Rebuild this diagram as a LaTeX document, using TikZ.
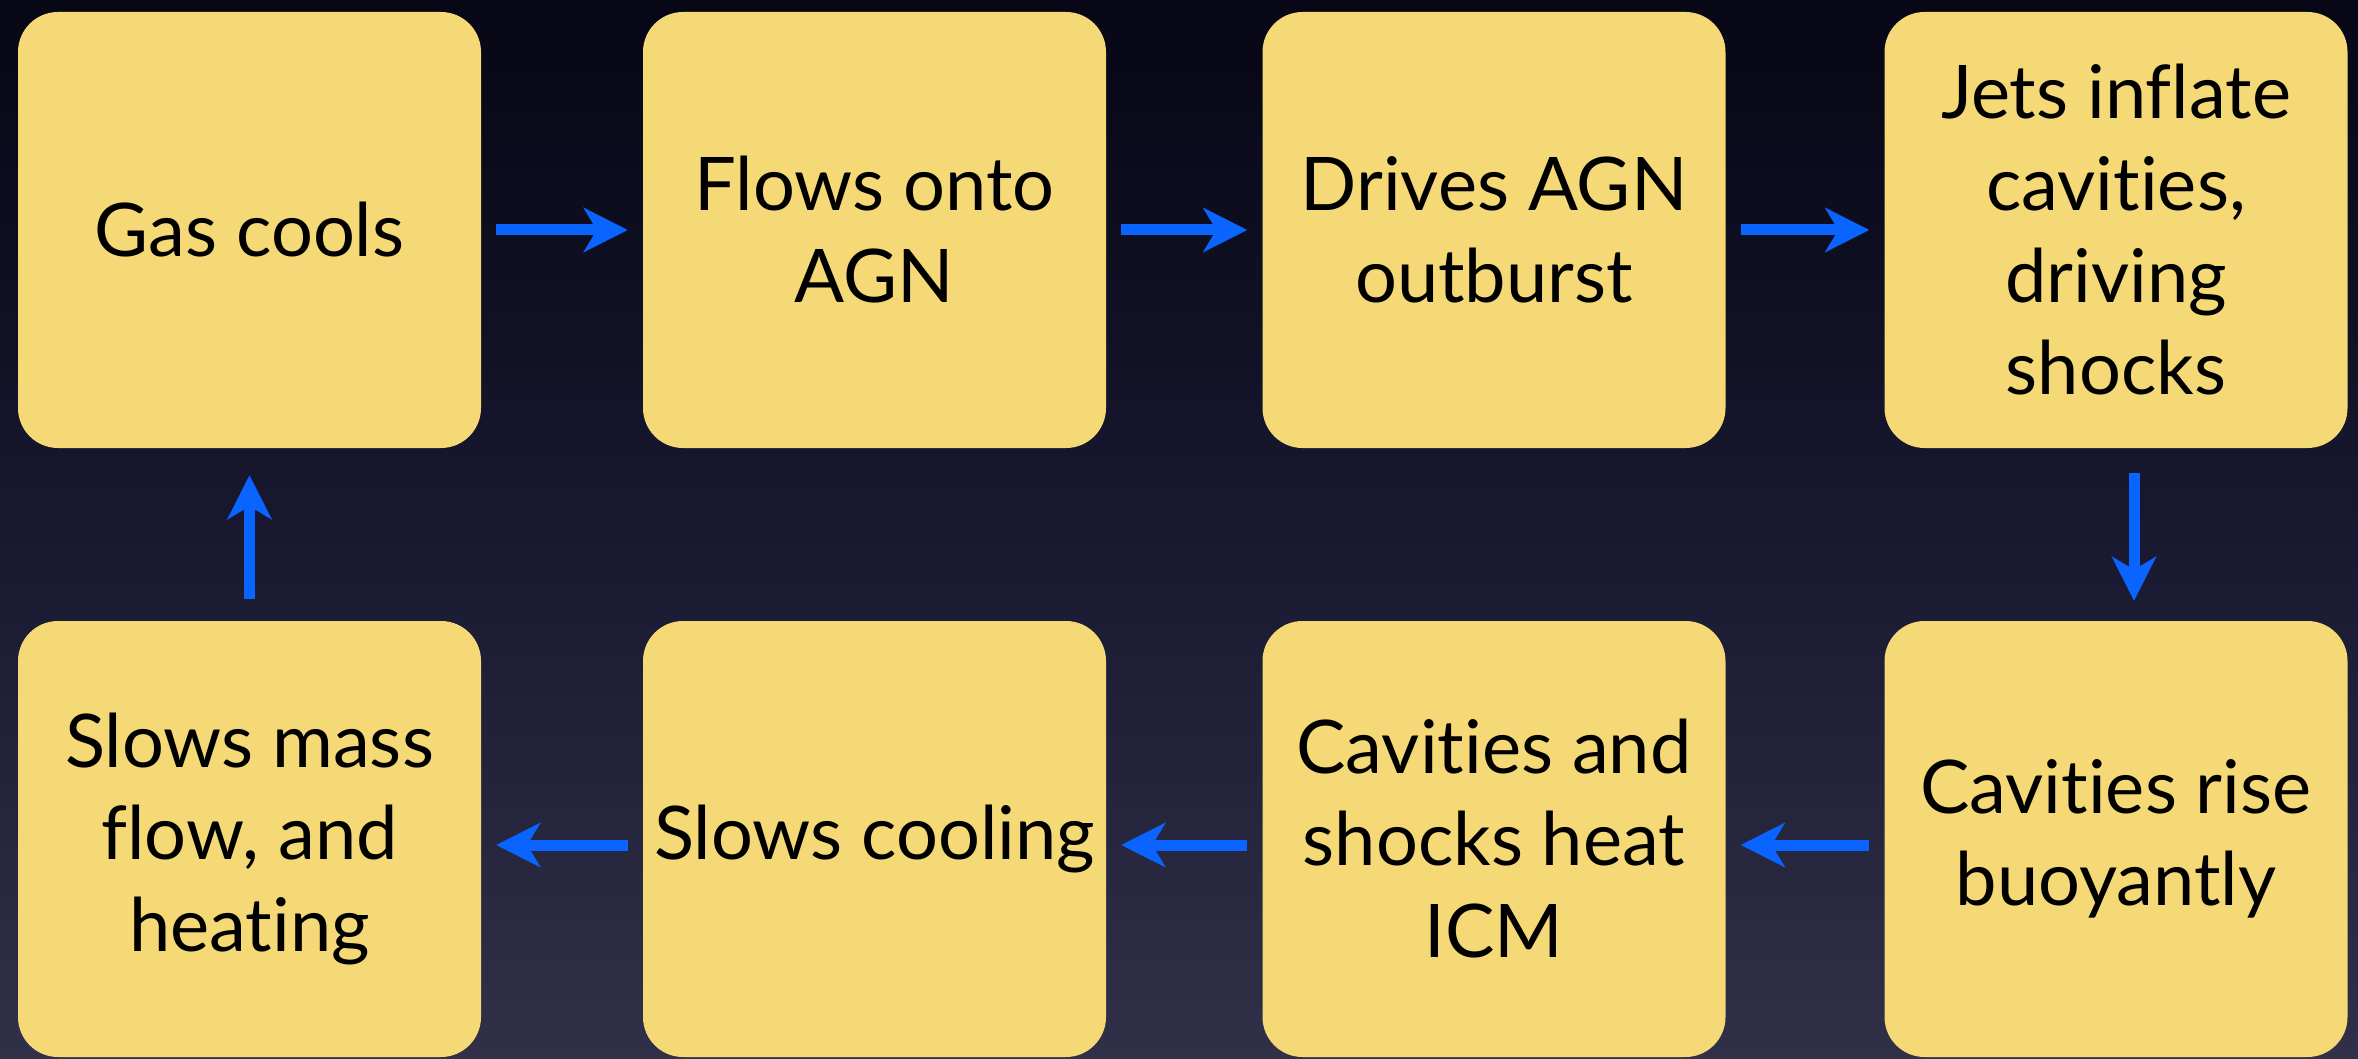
\documentclass[tikz,border=0pt]{standalone}
\usepackage{fontspec}
\setmainfont[Ligatures={NoCommon,NoDiscretionary,NoRequired,NoContextual}]{Lato}
\usetikzlibrary{arrows.meta}
\definecolor{boxfill}{RGB}{244,217,118}
\definecolor{arrblue}{RGB}{10,100,255}
\definecolor{bgbot}{RGB}{72,72,98}
\definecolor{bgmid}{RGB}{24,24,48}
\definecolor{bgup}{RGB}{8,8,24}
\definecolor{bgtop}{RGB}{1,1,6}
\pgfdeclareverticalshading{bgshade}{100bp}{color(0bp)=(bgbot); color(50bp)=(bgmid); color(72bp)=(bgup); color(100bp)=(bgtop)}
\begin{document}
\begin{tikzpicture}[x=1pt,y=-1pt,
  card/.style={fill=boxfill, rounded corners=40pt, minimum width=463pt, minimum height=436pt,
    inner sep=0pt, align=center, text=black, font=\fontsize{74}{92}\selectfont},
  flow/.style={draw=arrblue, line width=11pt, -{Stealth[length=44pt, width=44pt, inset=13pt]}}]
\useasboundingbox (0,0) rectangle (2358,1059);
\fill[shading=bgshade] (0,0) rectangle (2358,1059);
% top row
\node[card] (b1) at (249.5,230) {Gas cools};
\node[card] (b2) at (874.5,230) {Flows onto\\AGN};
\node[card] (b3) at (1494,230) {Drives AGN\\outburst};
\node[card] (b4) at (2116,230) {Jets inflate\\cavities,\\driving\\shocks};
% bottom row
\node[card] (b5) at (249.5,839) {Slows mass\\flow, and\\heating};
\node[card] (b6) at (874.5,839) {Slows cooling};
\node[card] (b7) at (1494,839) {Cavities and\\shocks heat\\ICM};
\node[card] (b8) at (2116,839) {Cavities rise\\buoyantly};
% connectors
\draw[flow] ([xshift=15pt]b1.east) -- ([xshift=-15pt]b2.west);
\draw[flow] ([xshift=15pt]b2.east) -- ([xshift=-15pt]b3.west);
\draw[flow] ([xshift=15pt]b3.east) -- ([xshift=-15pt]b4.west);
\draw[flow] ([xshift=18pt,yshift=-25pt]b4.south) -- ([xshift=18pt,yshift=20pt]b8.north);
\draw[flow] ([xshift=-15pt,yshift=-6pt]b8.west) -- ([xshift=15pt,yshift=-6pt]b7.east);
\draw[flow] ([xshift=-15pt,yshift=-6pt]b7.west) -- ([xshift=15pt,yshift=-6pt]b6.east);
\draw[flow] ([xshift=-15pt,yshift=-6pt]b6.west) -- ([xshift=15pt,yshift=-6pt]b5.east);
\draw[flow] ([yshift=22pt]b5.north) -- ([yshift=-27pt]b1.south);
\end{tikzpicture}
\end{document}
